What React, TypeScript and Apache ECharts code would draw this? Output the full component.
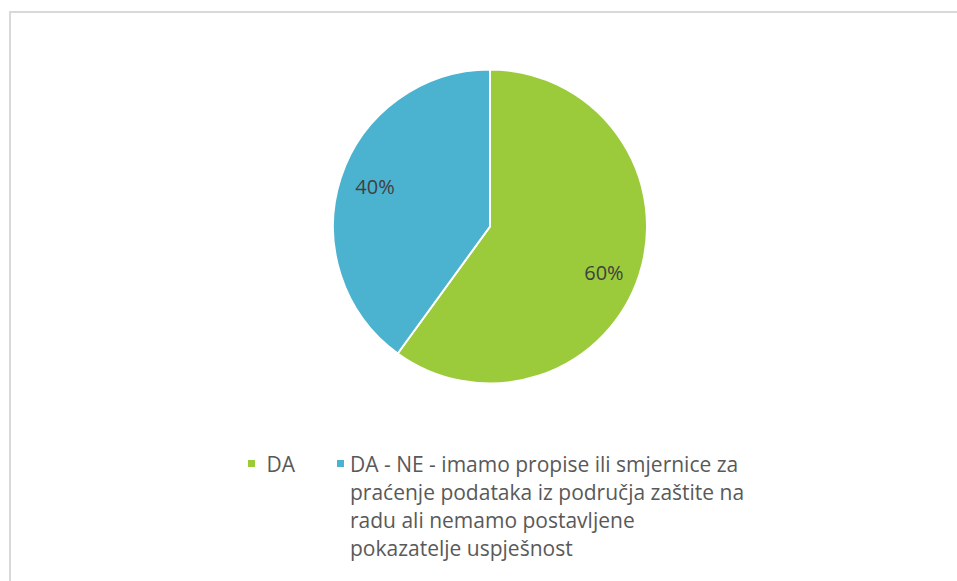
import React, { useEffect, useRef } from "react";
import * as echarts from "echarts";

const categories = ["DA", "DA - NE - imamo propise ili smjernice za praćenje podataka iz područja zaštite na radu ali nemamo postavljene pokazatelje uspješnost"];
const values = [60, 40];
const colors = ["#9BCB3B", "#4BB3CF"];
const blueLegendLines = [
  "DA - NE - imamo propise ili smjernice za",
  "praćenje podataka iz područja zaštite na",
  "radu ali nemamo postavljene",
  "pokazatelje uspješnost",
];

export default function App() {
  const ref = useRef<HTMLDivElement>(null);
  useEffect(() => {
    if (!ref.current) return;
    const chart = echarts.init(ref.current, undefined, { renderer: "svg" });
    const data = categories.map((name, i) => ({ name, value: values[i], itemStyle: { color: colors[i] } }));
    const font = "'Open Sans', sans-serif";
    const lh = 28;
    const icon = 9;
    const iconCenterY = 463.5;
    const blanks = blueLegendLines.length - 1;
    const labelNudge = [
      { dx: -4, dy: 8 },
      { dx: 3, dy: -2 },
    ];
    const legendCommon = {
      itemWidth: icon,
      itemHeight: icon,
      icon: "rect",
      padding: 0,
      selectedMode: false,
      textStyle: { color: "#595959", fontFamily: font, fontSize: 21, lineHeight: lh },
    };
    chart.setOption({
      animation: false,
      backgroundColor: "#ffffff",
      graphic: [
        {
          type: "rect",
          shape: { x: 10, y: 12, width: 960, height: 600 },
          style: { fill: "none", stroke: "#d9d9d9", lineWidth: 2 },
          silent: true,
          z: -10,
        },
      ],
      legend: [
        {
          ...legendCommon,
          data: [categories[0]],
          left: 246,
          top: iconCenterY - lh / 2,
          formatter: (n: string) => " " + n,
        },
        {
          ...legendCommon,
          data: [categories[1]],
          left: 335,
          top: iconCenterY - (lh * (blueLegendLines.length + blanks)) / 2,
          formatter: () => "\n".repeat(blanks) + blueLegendLines.join("\n"),
        },
      ],
      series: [
        {
          type: "pie",
          center: [490, 226.5],
          radius: [0, 157],
          startAngle: 90,
          clockwise: true,
          data,
          label: { show: false },
          labelLine: { show: false },
          itemStyle: { borderColor: "#ffffff", borderWidth: 2 },
          emphasis: { disabled: true },
        },
        {
          type: "pie",
          center: [490, 226.5],
          radius: [85, 157],
          startAngle: 90,
          clockwise: true,
          silent: true,
          data: categories.map((name, i) => ({ name, value: values[i] })),
          itemStyle: { color: "rgba(0,0,0,0)" },
          label: {
            show: true,
            position: "inside",
            formatter: "{d}%",
            color: "#404040",
            fontFamily: font,
            fontSize: 20,
          },
          labelLayout: (p: any) => labelNudge[p.dataIndex] || {},
          labelLine: { show: false },
          emphasis: { disabled: true },
        },
      ],
    });
    return () => chart.dispose();
  }, []);
  return <div ref={ref} style={{ position: "fixed", left: 0, top: 0, width: 957, height: 581 }} />;
}
